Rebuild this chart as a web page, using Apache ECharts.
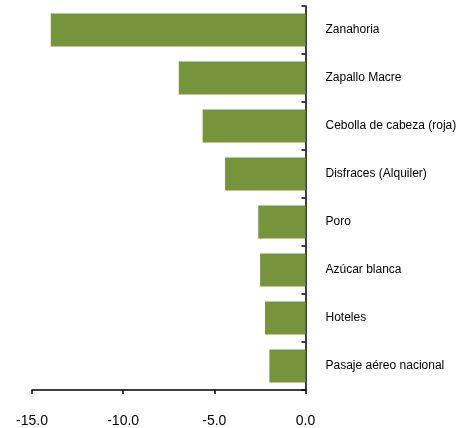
<!DOCTYPE html>
<html>
<head>
    <meta charset="UTF-8">
    <title>Variación de precios</title>
    <script src="https://cdn.jsdelivr.net/npm/echarts/dist/echarts.min.js"></script>
    <style>
        body { margin: 0; background: #fff; }
    </style>
</head>
<body>
    <div id="chart" style="width: 456px;height:428px;"></div>
    <script type="text/javascript">
        var myChart = echarts.init(document.getElementById('chart'));

        // categories top to bottom
        var productos = ['Zanahoria', 'Zapallo Macre', 'Cebolla de cabeza (roja)', 'Disfraces (Alquiler)',
            'Poro', 'Azúcar blanca', 'Hoteles', 'Pasaje aéreo nacional'];
        var variacion = [-13.97, -6.95, -5.64, -4.41, -2.59, -2.49, -2.22, -1.98];
        var xTicks = [-15, -10, -5, 0];

        var option = {
            animation: false,
            grid: {
                left: 32,
                right: 150.5,
                top: 6,
                bottom: 38,
                containLabel: false,
                outerBoundsMode: 'none'
            },
            xAxis: {
                type: 'value',
                min: xTicks[0],
                max: xTicks[xTicks.length - 1],
                interval: 5,
                splitLine: { show: false },
                axisLine: { show: true, onZero: false, lineStyle: { color: '#000', width: 1.5 } },
                axisTick: { show: true, length: 4, lineStyle: { color: '#000', width: 1.5 } },
                axisLabel: {
                    margin: 24,
                    color: '#000',
                    fontSize: 14,
                    fontFamily: 'Liberation Sans',
                    formatter: function (value) {
                        return value.toFixed(1);
                    }
                }
            },
            yAxis: {
                type: 'category',
                data: productos,
                inverse: true,
                position: 'right',
                axisLine: { show: true, onZero: false, lineStyle: { color: '#000', width: 1.5 } },
                axisTick: { show: true, inside: true, length: 4, lineStyle: { color: '#000', width: 1.5 } },
                axisLabel: {
                    margin: 20,
                    align: 'left',
                    color: '#000',
                    fontSize: 12,
                    padding: [4, 0, 0, 0],
                    fontFamily: 'Liberation Sans'
                }
            },
            series: [
                {
                    type: 'bar',
                    data: variacion,
                    barCategoryGap: '31%',
                    itemStyle: { color: '#77933c' }
                }
            ]
        };

        myChart.setOption(option);
    </script>
</body>
</html>
